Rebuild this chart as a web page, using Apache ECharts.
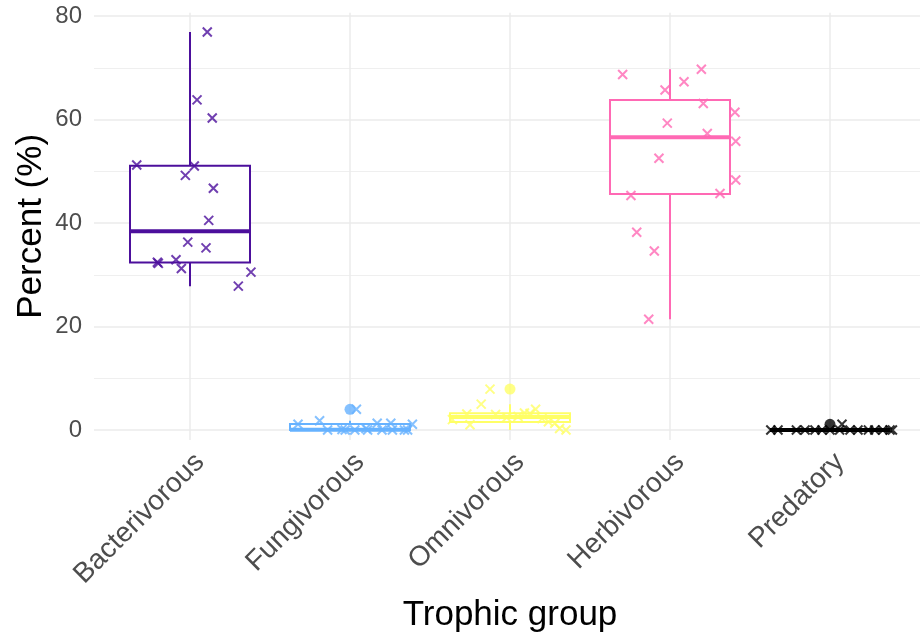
<!DOCTYPE html>
<html><head><meta charset="utf-8">
<script src="https://cdn.jsdelivr.net/npm/echarts@6/dist/echarts.min.js"></script>
<style>html,body{margin:0;padding:0;background:#fff}#c{width:920px;height:638px}</style>
</head><body><div id="c"></div>
<script>
// ---- data ----
const categories = ['Bacterivorous', 'Fungivorous', 'Omnivorous', 'Herbivorous', 'Predatory'];
const groupColors = ['#4C0F9C', '#66B2FF', '#FFFF66', '#FF69B4', '#000000'];

const bacterivorous = [76.9, 63.8, 60.3, 51.2, 51.0, 49.2, 46.7, 40.5, 36.3, 35.2, 32.9, 32.4, 32.2, 31.2, 30.5, 27.8];
const bacterivorousJitter = [0.108, 0.044, 0.139, -0.333, 0.027, -0.029, 0.146, 0.117, -0.014, 0.1, -0.0875, -0.204, -0.198, -0.054, 0.381, 0.302];

const fungivorous = [4.0, 1.8, 1.3, 1.3, 1.1, 1.1, 0.3, 0.1, 0, 0, 0, 0, 0, 0, 0, 0];
const fungivorousJitter = [0.04, -0.19, 0.17, 0.255, -0.325, 0.39, 0.1, -0.05, -0.14, -0.03, 0.03, 0.11, 0.2, 0.265, 0.34, 0.36];

const omnivorous = [7.9, 5.0, 4.0, 3.3, 3.2, 3.1, 3.0, 2.6, 2.4, 2.2, 2.0, 1.6, 1.3, 1.0, 0.3, 0.0];
const omnivorousJitter = [-0.125, -0.18, 0.16, 0.09, 0.125, -0.27, -0.09, 0.05, -0.02, 0.2, -0.36, 0.24, 0.28, -0.25, 0.31, 0.35];

const herbivorous = [68.7, 69.7, 67.3, 65.7, 63.1, 61.4, 59.3, 57.3, 55.8, 52.5, 48.3, 45.3, 45.7, 38.2, 34.6, 21.4];
const herbivorousJitter = [-0.296, 0.196, 0.0875, -0.031, 0.208, 0.406, -0.017, 0.233, 0.411, -0.069, 0.411, -0.244, 0.3125, -0.208, -0.098, -0.133];

const predatory = [1.1, 0, 0, 0, 0, 0, 0, 0, 0, 0, 0, 0, 0, 0, 0, 0];
const predatoryJitter = [0.075, -0.37, -0.325, -0.21, -0.156, -0.094, -0.05, 0.0, 0.06, 0.125, 0.175, 0.24, 0.28, 0.33, 0.375, 0.39];

const yTickMin = 0, yTickMax = 80, yTickStep = 20;
const xAxisTitle = 'Trophic group';
const yAxisTitle = 'Percent (%)';

// ---- build ----
const groups = [bacterivorous, fungivorous, omnivorous, herbivorous, predatory];
const jitters = [bacterivorousJitter, fungivorousJitter, omnivorousJitter, herbivorousJitter, predatoryJitter];

function quantile(sorted, p) {
  const h = (sorted.length - 1) * p;
  const lo = Math.floor(h);
  const hi = Math.min(lo + 1, sorted.length - 1);
  return sorted[lo] + (h - lo) * (sorted[hi] - sorted[lo]);
}
const boxData = [];
const outlierSeries = [];
groups.forEach((vals, i) => {
  const s = vals.slice().sort((a, b) => a - b);
  const q1 = quantile(s, 0.25), med = quantile(s, 0.5), q3 = quantile(s, 0.75);
  const iqr = q3 - q1;
  const lf = q1 - 1.5 * iqr, uf = q3 + 1.5 * iqr;
  const inside = s.filter(v => v >= lf && v <= uf);
  const lo = inside[0], hi = inside[inside.length - 1];
  boxData.push([i + 1, lo, q1, med, q3, hi, i]);
  s.filter(v => v < lf || v > uf).forEach(v => outlierSeries.push({ value: [i + 1, v], itemStyle: { color: groupColors[i] } }));
});

const series = [];
series.push({
  type: 'custom', xAxisIndex: 0, yAxisIndex: 0, z: 2, clip: false,
  data: boxData,
  renderItem: function (params, api) {
    const x = api.value(0);
    const col = groupColors[api.value(6)];
    const half = api.size([0.375, 0])[0];
    const pLo = api.coord([x, api.value(1)]);
    const pQ1 = api.coord([x, api.value(2)]);
    const pMed = api.coord([x, api.value(3)]);
    const pQ3 = api.coord([x, api.value(4)]);
    const pHi = api.coord([x, api.value(5)]);
    const lw = 2;
    return {
      type: 'group',
      children: [
        { type: 'line', shape: { x1: pQ3[0], y1: pQ3[1], x2: pHi[0], y2: pHi[1] }, style: { stroke: col, lineWidth: lw } },
        { type: 'line', shape: { x1: pQ1[0], y1: pQ1[1], x2: pLo[0], y2: pLo[1] }, style: { stroke: col, lineWidth: lw } },
        { type: 'rect', shape: { x: pQ3[0] - half, y: pQ3[1], width: 2 * half, height: pQ1[1] - pQ3[1] }, style: { fill: '#ffffff', stroke: col, lineWidth: lw } },
        { type: 'line', shape: { x1: pMed[0] - half, y1: pMed[1], x2: pMed[0] + half, y2: pMed[1] }, style: { stroke: col, lineWidth: 4 } }
      ]
    };
  }
});
series.push({
  type: 'scatter', xAxisIndex: 0, yAxisIndex: 0, z: 3, clip: false,
  symbol: 'circle', symbolSize: 11,
  data: outlierSeries
});
groups.forEach((vals, i) => {
  series.push({
    type: 'scatter', xAxisIndex: 0, yAxisIndex: 0, z: 4, clip: false,
    symbol: 'path://M0,0L10,10M10,0L0,10', symbolSize: 9,
    itemStyle: { color: groupColors[i], borderColor: groupColors[i], borderWidth: 2 },
    data: vals.map((v, k) => [i + 1 + jitters[i][k], v])
  });
});

const chart = echarts.init(document.getElementById('c'), null, { renderer: 'canvas' });
const fontFam = '"Liberation Sans", Arial, sans-serif';
chart.setOption({
  animation: false,
  backgroundColor: '#ffffff',
  textStyle: { fontFamily: fontFam },
  grid: [
    { left: 94, right: 0, top: 16, bottom: 208 },
    { left: 190, right: 90, top: 12.7, bottom: 188.1 }
  ],
  xAxis: [
    { gridIndex: 0, type: 'value', min: 0.4, max: 5.5625, show: false },
    {
      gridIndex: 1, type: 'category', data: categories, boundaryGap: false,
      axisLine: { show: false }, axisTick: { show: false },
      splitLine: { show: true, lineStyle: { color: '#ebebeb', width: 1.5 } },
      axisLabel: { interval: 0, rotate: 45, fontSize: 28, color: '#4d4d4d', margin: 8, verticalAlign: 'top', fontFamily: fontFam },
      name: xAxisTitle, nameLocation: 'middle', nameGap: 158,
      nameTextStyle: { fontSize: 35, color: '#000000', fontFamily: fontFam }
    }
  ],
  yAxis: [
    {
      gridIndex: 0, type: 'value', min: yTickMin, max: yTickMax, interval: yTickStep,
      axisLine: { show: false }, axisTick: { show: false },
      axisLabel: { fontSize: 24, color: '#4d4d4d', margin: 12, fontFamily: fontFam },
      splitLine: { show: true, lineStyle: { color: '#ebebeb', width: 1.5 } },
      minorTick: { show: false, splitNumber: 2 },
      minorSplitLine: { show: true, lineStyle: { color: '#ebebeb', width: 0.8 } }
    },
    {
      gridIndex: 1, type: 'value', min: -3.84, max: 80.64,
      axisLine: { show: false }, axisTick: { show: false }, axisLabel: { show: false },
      splitLine: { show: false },
      name: yAxisTitle, nameLocation: 'middle', nameGap: 141,
      nameTextStyle: { fontSize: 35, color: '#000000', fontFamily: fontFam }
    }
  ],
  series: series
});
</script>
</body></html>
